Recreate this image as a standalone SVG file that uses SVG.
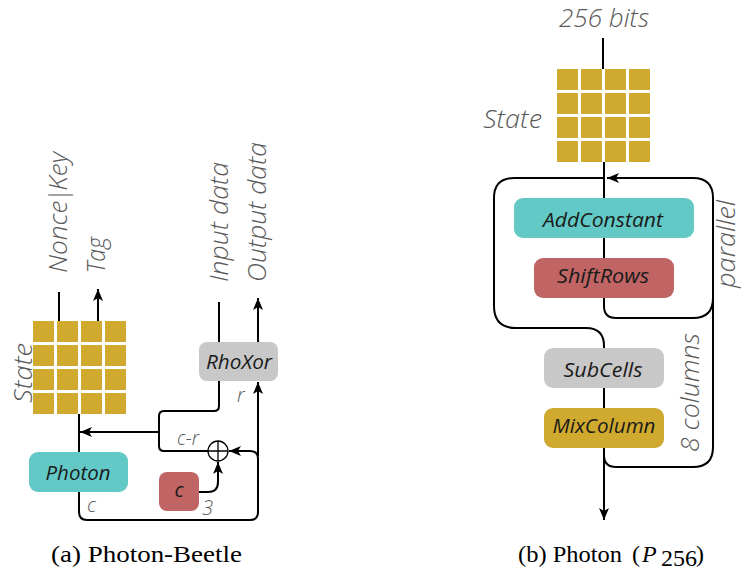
<svg xmlns="http://www.w3.org/2000/svg" width="741" height="570" viewBox="0 0 741 570">
<style>
.lbl{font-family:"Open Sans","DejaVu Sans",sans-serif;font-style:italic;font-weight:300;font-size:25px;fill:#5a5a5a}
.sm{font-family:"Open Sans","DejaVu Sans",sans-serif;font-style:italic;font-weight:300;font-size:20px;fill:#5a5a5a}
.bt{font-family:"Open Sans","DejaVu Sans",sans-serif;font-style:italic;font-weight:400;font-size:20px;fill:#1a1a1a;text-anchor:middle}
.cap{font-family:"Liberation Serif","Times New Roman",serif;font-size:24px;fill:#000}
.ln{fill:none;stroke:#000;stroke-width:2}
.sq{fill:#cfaa2e}
.teal{fill:#62c9c6}
.red{fill:#c06464}
.gray{fill:#c8c8c8}
.gold{fill:#cfaa2e}
</style>
<defs>
<marker id="ah" viewBox="0 0 12 10" refX="12" refY="5" markerWidth="12" markerHeight="10" markerUnits="userSpaceOnUse" orient="auto">
<path d="M0,0 L12,5 L0,10 L3,5 Z" fill="#000"/>
</marker>
<g id="grid">
<rect class="sq" x="0" y="0" width="21" height="21"/><rect class="sq" x="24" y="0" width="21" height="21"/><rect class="sq" x="48" y="0" width="21" height="21"/><rect class="sq" x="72" y="0" width="21" height="21"/>
<rect class="sq" x="0" y="24" width="21" height="21"/><rect class="sq" x="24" y="24" width="21" height="21"/><rect class="sq" x="48" y="24" width="21" height="21"/><rect class="sq" x="72" y="24" width="21" height="21"/>
<rect class="sq" x="0" y="48" width="21" height="21"/><rect class="sq" x="24" y="48" width="21" height="21"/><rect class="sq" x="48" y="48" width="21" height="21"/><rect class="sq" x="72" y="48" width="21" height="21"/>
<rect class="sq" x="0" y="72" width="21" height="21"/><rect class="sq" x="24" y="72" width="21" height="21"/><rect class="sq" x="48" y="72" width="21" height="21"/><rect class="sq" x="72" y="72" width="21" height="21"/>
</g>
</defs>
<rect width="741" height="570" fill="#fff"/>

<!-- connectors -->
<g id="connectors">
<!-- left -->
<path class="ln" d="M59,292 V321"/>
<path class="ln" d="M98,321 V289" marker-end="url(#ah)"/>
<path class="ln" d="M219,302 V342"/>
<path class="ln" d="M258,342 V298" marker-end="url(#ah)"/>
<path class="ln" d="M219,381 V406 Q219,411 214,411 H164 Q159,411 159,416 V446 Q159,451 164,451 H208"/>
<path class="ln" d="M159,432 H80" marker-end="url(#ah)"/>
<path class="ln" d="M79,414 V512 Q79,520 87,520 H250 Q258,520 258,512 V459 Q258,451 250,451 H229" marker-end="url(#ah)"/>
<path class="ln" d="M258,456 V382" marker-end="url(#ah)"/>
<path class="ln" d="M199,492 H208 Q218,492 218,482 V462" marker-end="url(#ah)"/>
<circle cx="218" cy="451" r="10" fill="#fff" stroke="#000" stroke-width="1.3"/>
<path d="M208,451 H228 M218,441 V461" stroke="#000" stroke-width="1.3"/>
<!-- right -->
<path class="ln" d="M603,38 V69"/>
<path class="ln" d="M604,162 V198"/>
<path class="ln" d="M713,300 V198 Q713,178 693,178 H607" marker-end="url(#ah)"/>
<path class="ln" d="M604,178 H514 Q494,178 494,198 V306 Q494,328 516,328 H586 Q604,328 604,346 V348"/>
<path class="ln" d="M604,238 V258"/>
<path class="ln" d="M604,298 V306 Q604,318 616,318 H693 Q713,318 713,298"/>
<path class="ln" d="M713,300 V447 Q713,467 693,467 H616 Q604,467 604,455"/>
<path class="ln" d="M604,388 V408"/>
<path class="ln" d="M604,448 V520" marker-end="url(#ah)"/>
</g>

<!-- left diagram nodes -->
<g id="state-a">
<use href="#grid" x="33" y="321"/>
<text class="lbl" transform="translate(32,403) rotate(-90)" textLength="60" lengthAdjust="spacingAndGlyphs">State</text>
</g>
<g id="nonce-key"><text class="lbl" transform="translate(67,273) rotate(-90)" textLength="121" lengthAdjust="spacingAndGlyphs">Nonce<tspan dx="-2">|</tspan><tspan dx="-2">Key</tspan></text></g>
<g id="tag"><text class="lbl" transform="translate(105,273) rotate(-90)" textLength="36" lengthAdjust="spacingAndGlyphs">Tag</text></g>
<g id="input-data"><text class="lbl" transform="translate(228,282) rotate(-90)" textLength="120" lengthAdjust="spacingAndGlyphs">Input data</text></g>
<g id="output-data"><text class="lbl" transform="translate(266,282) rotate(-90)" textLength="140" lengthAdjust="spacingAndGlyphs">Output data</text></g>
<g id="rhoxor">
<rect class="gray" x="199" y="342" width="79" height="39" rx="8"/>
<text class="bt" x="239" y="369" textLength="66" lengthAdjust="spacingAndGlyphs">RhoXor</text>
</g>
<g id="photon-a">
<rect class="teal" x="29" y="452" width="99" height="40" rx="9"/>
<text class="bt" x="78" y="480" textLength="65" lengthAdjust="spacingAndGlyphs">Photon</text>
</g>
<g id="c-box">
<rect class="red" x="159" y="472" width="40" height="39" rx="8"/>
<text class="bt" x="179" y="497">c</text>
</g>
<g id="labels-a">
<text class="sm" x="177" y="445" textLength="22" lengthAdjust="spacingAndGlyphs">c-r</text>
<text class="sm" x="237" y="402">r</text>
<text class="sm" x="202" y="515">3</text>
<text class="sm" x="87" y="512">c</text>
</g>

<!-- right diagram nodes -->
<g id="bits"><text class="lbl" x="559" y="27" textLength="90" lengthAdjust="spacingAndGlyphs">256 bits</text></g>
<g id="state-b">
<use href="#grid" x="557" y="69"/>
<text class="lbl" x="483" y="128" textLength="59" lengthAdjust="spacingAndGlyphs">State</text>
</g>
<g id="addconstant">
<rect class="teal" x="514" y="198" width="180" height="40" rx="9"/>
<text class="bt" x="603" y="227" textLength="120" lengthAdjust="spacingAndGlyphs">AddConstant</text>
</g>
<g id="shiftrows">
<rect class="red" x="534" y="258" width="140" height="40" rx="9"/>
<text class="bt" x="603" y="283" textLength="92" lengthAdjust="spacingAndGlyphs">ShiftRows</text>
</g>
<g id="subcells">
<rect class="gray" x="544" y="348" width="120" height="40" rx="9"/>
<text class="bt" x="603" y="377" textLength="79" lengthAdjust="spacingAndGlyphs">SubCells</text>
</g>
<g id="mixcolumn">
<rect class="gold" x="544" y="408" width="120" height="40" rx="9"/>
<text class="bt" x="604" y="433" textLength="103" lengthAdjust="spacingAndGlyphs">MixColumn</text>
</g>
<g id="parallel"><text class="lbl" transform="translate(735,288) rotate(-90)" textLength="88" lengthAdjust="spacingAndGlyphs">parallel</text></g>
<g id="columns"><text class="lbl" transform="translate(699,452) rotate(-90)" textLength="119" lengthAdjust="spacingAndGlyphs">8 columns</text></g>

<!-- captions -->
<g id="captions">
<text class="cap" x="51" y="562" textLength="191" lengthAdjust="spacingAndGlyphs">(a) Photon-Beetle</text>
<text class="cap" x="518" y="562" textLength="104" lengthAdjust="spacingAndGlyphs">(b) Photon</text>
<text class="cap" x="632" y="562">(</text>
<text class="cap" x="642" y="562" font-style="italic">P</text>
<text class="cap" x="661" y="566" font-size="19">256</text>
<text class="cap" x="696" y="562">)</text>
</g>
</svg>
